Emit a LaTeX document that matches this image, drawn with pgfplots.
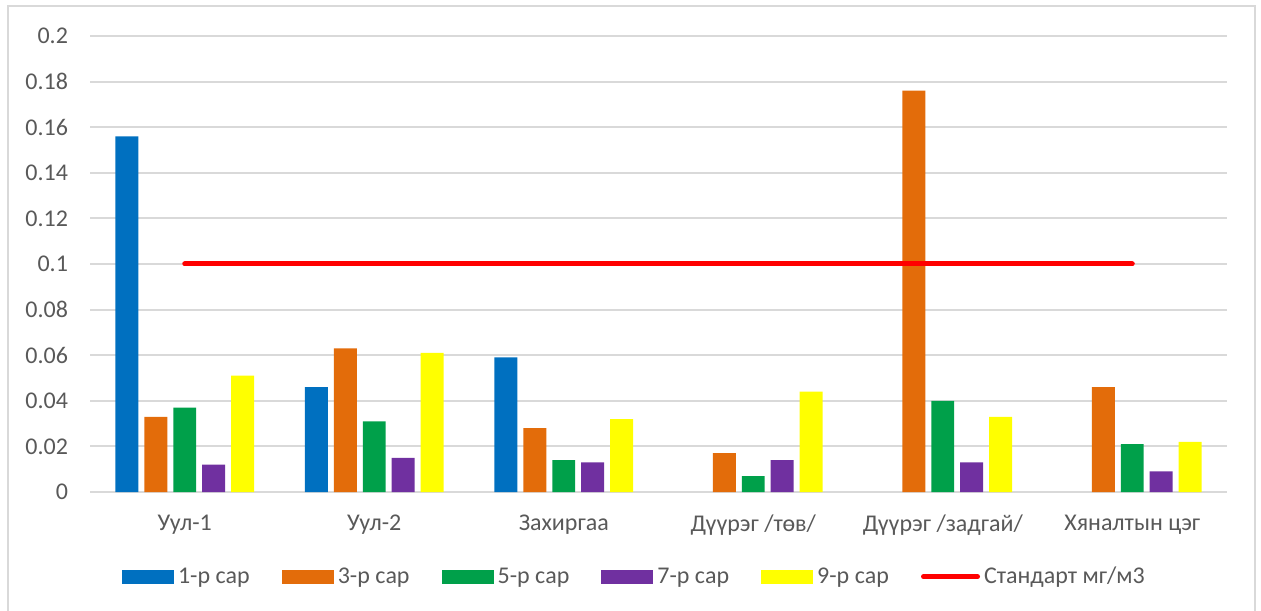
\documentclass[border=0pt]{standalone}
\usepackage{fontspec}
\setmainfont{Carlito}
\usepackage{pgfplots}
\pgfplotsset{compat=1.18}
\definecolor{cBlue}{HTML}{0070C0}
\definecolor{cOrange}{HTML}{E36C0A}
\definecolor{cGreen}{HTML}{00A04A}
\definecolor{cPurple}{HTML}{7030A0}
\definecolor{cYellow}{HTML}{FFFF00}
\definecolor{cRed}{HTML}{FF0000}
\definecolor{cGrid}{HTML}{D9D9D9}
\definecolor{cText}{HTML}{595959}
\begin{document}
\begin{tikzpicture}
\useasboundingbox (0,0) rectangle (630.5pt,305pt);
\draw[cGrid, line width=1pt] (4pt,-10pt) -- (4pt,302pt) -- (627.5pt,302pt) -- (627.5pt,-10pt);
\begin{axis}[
  at={(45pt,59pt)}, anchor=south west,
  scale only axis, width=568.5pt, height=228pt,
  xmin=-0.5, xmax=5.5, ymin=0, ymax=0.2,
  xtick={0,1,2,3,4,5},
  xticklabels={Уул-1, Уул-2, Захиргаа, Дүүрэг /төв/, Дүүрэг /задгай/, Хяналтын цэг},
  ytick={0,0.02,0.04,0.06,0.08,0.1,0.12,0.14,0.16,0.18,0.2},
  yticklabel style={/pgf/number format/fixed, /pgf/number format/precision=2, xshift=-7.5pt},
  xticklabel style={yshift=-8pt},
  /pgf/number format/assume math mode=true,
  ticklabel style={font=\fontsize{12}{14}\selectfont, text=cText},
  major tick length=0pt,
  axis line style={draw=none},
  ymajorgrids, grid style={cGrid, line width=1pt},
  clip=false,
  legend columns=6,
  legend style={draw=none, fill=none, at={(0.4797,-0.186)}, anchor=center,
    font=\fontsize{12}{14}\selectfont, text=cText,
    /tikz/every even column/.append style={column sep=14pt}},
  area legend,
]
\pgfplotsset{every axis plot/.append style={draw=none, bar width=0.121}}
\addplot[ybar, fill=cBlue, bar shift=-0.305,
  legend image code/.code={\fill[cBlue] (0pt,-3.35pt) rectangle (26pt,3.35pt);}]
  coordinates {(0,0.156) (1,0.046) (2,0.059)};
\addlegendentry{1-р сар}
\addplot[ybar, fill=cOrange, bar shift=-0.1525,
  legend image code/.code={\fill[cOrange] (0pt,-3.35pt) rectangle (26pt,3.35pt);}]
  coordinates {(0,0.033) (1,0.063) (2,0.028) (3,0.017) (4,0.176) (5,0.046)};
\addlegendentry{3-р сар}
\addplot[ybar, fill=cGreen, bar shift=0,
  legend image code/.code={\fill[cGreen] (0pt,-3.35pt) rectangle (26pt,3.35pt);}]
  coordinates {(0,0.037) (1,0.031) (2,0.014) (3,0.007) (4,0.040) (5,0.021)};
\addlegendentry{5-р сар}
\addplot[ybar, fill=cPurple, bar shift=0.1525,
  legend image code/.code={\fill[cPurple] (0pt,-3.35pt) rectangle (26pt,3.35pt);}]
  coordinates {(0,0.012) (1,0.015) (2,0.013) (3,0.014) (4,0.013) (5,0.009)};
\addlegendentry{7-р сар}
\addplot[ybar, fill=cYellow, bar shift=0.305,
  legend image code/.code={\fill[cYellow] (0pt,-3.35pt) rectangle (26pt,3.35pt);}]
  coordinates {(0,0.051) (1,0.061) (2,0.032) (3,0.044) (4,0.033) (5,0.022)};
\addlegendentry{9-р сар}
\addplot[sharp plot, draw=cRed, line width=2.5pt, line cap=round, mark=none,
  legend image code/.code={\draw[cRed, line width=2.5pt, line cap=round] (2pt,0pt) -- (29pt,0pt);}]
  coordinates {(0,0.1) (5,0.1)};
\addlegendentry{Стандарт мг/м3}
\end{axis}
\end{tikzpicture}
\end{document}
